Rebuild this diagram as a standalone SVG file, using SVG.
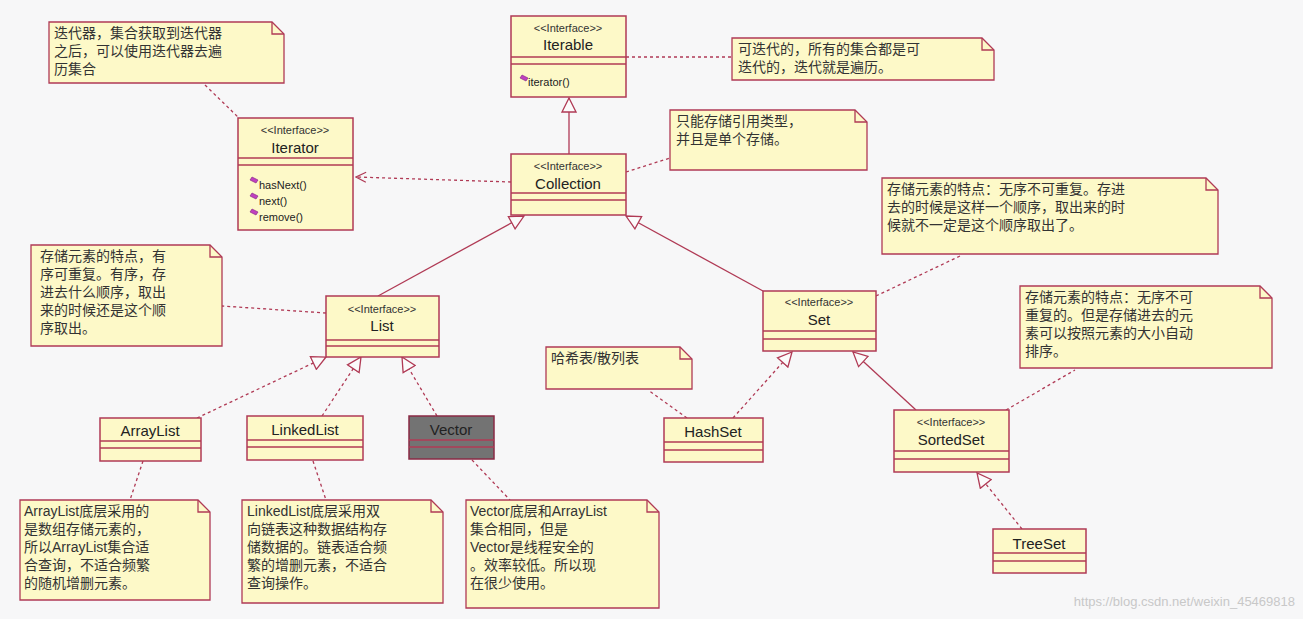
<svg xmlns="http://www.w3.org/2000/svg" width="1303" height="619" viewBox="0 0 1303 619">
<style>
.b{fill:#fdf9c8;stroke:#b03a55;stroke-width:1.5}
.g{fill:#737373;stroke:#8a2a44;stroke-width:1.5}
.n{fill:#fdf9c8;stroke:#b03a55;stroke-width:1.3}
.l{stroke:#b03a55;stroke-width:1.3;fill:none}
.s{font-family:"Liberation Sans","Noto Sans CJK SC",sans-serif;font-size:11px;fill:#333;text-anchor:middle}
.t{font-family:"Liberation Sans","Noto Sans CJK SC",sans-serif;font-size:15px;fill:#222;text-anchor:middle}
.m{font-family:"Liberation Sans",sans-serif;font-size:11px;fill:#222}
.c{font-family:"Liberation Sans","Noto Sans CJK SC",sans-serif;font-size:14px;fill:#333}
.d{stroke:#b03a55;stroke-width:1.3;fill:none;stroke-dasharray:3,3}
</style>
<defs>
<marker id="tri" viewBox="0 0 16 16" refX="15" refY="8" markerWidth="16" markerHeight="16" markerUnits="userSpaceOnUse" orient="auto"><path d="M1,1 L15,8 L1,15 Z" fill="#fbfbfb" stroke="#b03a55" stroke-width="1.3"/></marker>
<marker id="open" viewBox="0 0 12 12" refX="11" refY="6" markerWidth="12" markerHeight="12" markerUnits="userSpaceOnUse" orient="auto"><path d="M1,1 L11,6 L1,11" fill="none" stroke="#b03a55" stroke-width="1.2"/></marker>
<path id="dm" d="M0,-3 L6,0 L4,3 L-2,0 Z" fill="#c040c0" stroke="#802080" stroke-width="0.6"/>
</defs>
<rect width="1303" height="619" fill="#f7f7f8"/>
<g id="connectors">
<line class="d" x1="626" y1="57" x2="732" y2="57"/>
<line class="d" x1="205" y1="85" x2="240" y2="119"/>
<line class="d" x1="511" y1="182" x2="356" y2="177" marker-end="url(#open)"/>
<line class="l" x1="569" y1="154" x2="569" y2="98" marker-end="url(#tri)"/>
<line class="d" x1="626" y1="172" x2="670" y2="158"/>
<line class="l" x1="378" y1="296" x2="524" y2="216" marker-end="url(#tri)"/>
<line class="l" x1="763" y1="291" x2="626" y2="216" marker-end="url(#tri)"/>
<line class="d" x1="876" y1="296" x2="960" y2="256"/>
<line class="d" x1="326" y1="313" x2="222" y2="306"/>
<line class="d" x1="197" y1="418" x2="326" y2="357" marker-end="url(#tri)"/>
<line class="d" x1="322" y1="416" x2="361" y2="357" marker-end="url(#tri)"/>
<line class="d" x1="437" y1="416" x2="402" y2="357" marker-end="url(#tri)"/>
<line class="d" x1="143" y1="461" x2="130" y2="500"/>
<line class="d" x1="313" y1="461" x2="326" y2="500"/>
<line class="d" x1="472" y1="460" x2="510" y2="500"/>
<line class="d" x1="687" y1="418" x2="648" y2="390"/>
<line class="d" x1="733" y1="418" x2="792" y2="352" marker-end="url(#tri)"/>
<line class="l" x1="916" y1="410" x2="853" y2="352" marker-end="url(#tri)"/>
<line class="d" x1="1006" y1="410" x2="1075" y2="370"/>
<line class="d" x1="1022" y1="529" x2="977" y2="473" marker-end="url(#tri)"/>
</g>
<g id="Iterable"><rect class="b" x="511" y="16" width="115" height="81"/><line class="l" x1="511" y1="57" x2="626" y2="57"/><line class="l" x1="511" y1="64" x2="626" y2="64"/>
<text class="s" x="568" y="32">&lt;&lt;Interface&gt;&gt;</text><text class="t" x="568" y="50">Iterable</text>
<use href="#dm" x="522" y="78"/><text class="m" x="528" y="86">iterator()</text></g>
<g id="Iterator"><rect class="b" x="238" y="118" width="115" height="112"/><line class="l" x1="238" y1="158" x2="353" y2="158"/><line class="l" x1="238" y1="165" x2="353" y2="165"/>
<text class="s" x="295" y="134">&lt;&lt;Interface&gt;&gt;</text><text class="t" x="295" y="153">Iterator</text>
<use href="#dm" x="252" y="180"/><text class="m" x="259" y="189">hasNext()</text>
<use href="#dm" x="252" y="196"/><text class="m" x="259" y="205">next()</text>
<use href="#dm" x="252" y="212"/><text class="m" x="259" y="221">remove()</text></g>
<g id="Collection"><rect class="b" x="511" y="154" width="115" height="61"/><line class="l" x1="511" y1="193" x2="626" y2="193"/><line class="l" x1="511" y1="200" x2="626" y2="200"/>
<text class="s" x="568" y="170">&lt;&lt;Interface&gt;&gt;</text><text class="t" x="568" y="189">Collection</text></g>
<g id="List"><rect class="b" x="326" y="296" width="113" height="61"/><line class="l" x1="326" y1="340" x2="439" y2="340"/><line class="l" x1="326" y1="346" x2="439" y2="346"/>
<text class="s" x="382" y="313">&lt;&lt;Interface&gt;&gt;</text><text class="t" x="382" y="331">List</text></g>
<g id="Set"><rect class="b" x="763" y="291" width="113" height="60"/><line class="l" x1="763" y1="331" x2="876" y2="331"/><line class="l" x1="763" y1="339" x2="876" y2="339"/>
<text class="s" x="819" y="306">&lt;&lt;Interface&gt;&gt;</text><text class="t" x="819" y="325">Set</text></g>
<g id="ArrayList"><rect class="b" x="100" y="418" width="101" height="43"/><line class="l" x1="100" y1="441" x2="201" y2="441"/><line class="l" x1="100" y1="448" x2="201" y2="448"/><text class="t" x="150" y="436">ArrayList</text></g>
<g id="LinkedList"><rect class="b" x="247" y="416" width="116" height="44"/><line class="l" x1="247" y1="440" x2="363" y2="440"/><line class="l" x1="247" y1="447" x2="363" y2="447"/><text class="t" x="305" y="435">LinkedList</text></g>
<g id="Vector"><rect class="g" x="409" y="416" width="85" height="43"/><line class="l" x1="409" y1="440" x2="494" y2="440"/><line class="l" x1="409" y1="447" x2="494" y2="447"/><text class="t" x="451" y="435">Vector</text></g>
<g id="HashSet"><rect class="b" x="664" y="418" width="99" height="44"/><line class="l" x1="664" y1="442" x2="763" y2="442"/><line class="l" x1="664" y1="450" x2="763" y2="450"/><text class="t" x="713" y="437">HashSet</text></g>
<g id="SortedSet"><rect class="b" x="894" y="410" width="115" height="62"/><line class="l" x1="894" y1="451" x2="1009" y2="451"/><line class="l" x1="894" y1="459" x2="1009" y2="459"/>
<text class="s" x="951" y="426">&lt;&lt;Interface&gt;&gt;</text><text class="t" x="951" y="445">SortedSet</text></g>
<g id="TreeSet"><rect class="b" x="993" y="529" width="93" height="44"/><line class="l" x1="993" y1="553" x2="1086" y2="553"/><line class="l" x1="993" y1="561" x2="1086" y2="561"/><text class="t" x="1039" y="549">TreeSet</text></g>
<g id="note-iterator"><path class="n" d="M49,22 H272 L284,34 V83 H49 Z"/><path class="l" d="M272,22 V34 H284"/>
<text class="c" x="54" y="38">迭代器，集合获取到迭代器</text><text class="c" x="54" y="56">之后，可以使用迭代器去遍</text><text class="c" x="54" y="74">历集合</text></g>
<g id="note-iterable"><path class="n" d="M732,38 H982 L994,50 V80 H732 Z"/><path class="l" d="M982,38 V50 H994"/>
<text class="c" x="738" y="54">可迭代的，所有的集合都是可</text><text class="c" x="738" y="72">迭代的，迭代就是遍历。</text></g>
<g id="note-collection"><path class="n" d="M670,110 H855 L867,122 V170 H670 Z"/><path class="l" d="M855,110 V122 H867"/>
<text class="c" x="676" y="126">只能存储引用类型，</text><text class="c" x="676" y="144">并且是单个存储。</text></g>
<g id="note-set"><path class="n" d="M882,178 H1206 L1218,190 V254 H882 Z"/><path class="l" d="M1206,178 V190 H1218"/>
<text class="c" x="887" y="194">存储元素的特点：无序不可重复。存进</text><text class="c" x="887" y="212">去的时候是这样一个顺序，取出来的时</text><text class="c" x="887" y="230">候就不一定是这个顺序取出了。</text></g>
<g id="note-sortedset"><path class="n" d="M1020,286 H1260 L1272,298 V368 H1020 Z"/><path class="l" d="M1260,286 V298 H1272"/>
<text class="c" x="1025" y="302">存储元素的特点：无序不可</text><text class="c" x="1025" y="320">重复的。但是存储进去的元</text><text class="c" x="1025" y="338">素可以按照元素的大小自动</text><text class="c" x="1025" y="356">排序。</text></g>
<g id="note-list"><path class="n" d="M31,245 H210 L222,257 V346 H31 Z"/><path class="l" d="M210,245 V257 H222"/>
<text class="c" x="40" y="261">存储元素的特点，有</text><text class="c" x="40" y="279">序可重复。有序，存</text><text class="c" x="40" y="297">进去什么顺序，取出</text><text class="c" x="40" y="315">来的时候还是这个顺</text><text class="c" x="40" y="333">序取出。</text></g>
<g id="note-hash"><path class="n" d="M546,347 H680 L692,359 V389 H546 Z"/><path class="l" d="M680,347 V359 H692"/>
<text class="c" x="551" y="363">哈希表/散列表</text></g>
<g id="note-arraylist"><path class="n" d="M20,500 H198 L210,512 V600 H20 Z"/><path class="l" d="M198,500 V512 H210"/>
<text class="c" x="24" y="516">ArrayList底层采用的</text><text class="c" x="24" y="534">是数组存储元素的，</text><text class="c" x="24" y="552">所以ArrayList集合适</text><text class="c" x="24" y="570">合查询，不适合频繁</text><text class="c" x="24" y="588">的随机增删元素。</text></g>
<g id="note-linkedlist"><path class="n" d="M242,500 H431 L443,512 V603 H242 Z"/><path class="l" d="M431,500 V512 H443"/>
<text class="c" x="247" y="516">LinkedList底层采用双</text><text class="c" x="247" y="534">向链表这种数据结构存</text><text class="c" x="247" y="552">储数据的。链表适合频</text><text class="c" x="247" y="570">繁的增删元素，不适合</text><text class="c" x="247" y="588">查询操作。</text></g>
<g id="note-vector"><path class="n" d="M466,500 H647 L659,512 V608 H466 Z"/><path class="l" d="M647,500 V512 H659"/>
<text class="c" x="470" y="516">Vector底层和ArrayList</text><text class="c" x="470" y="534">集合相同，但是</text><text class="c" x="470" y="552">Vector是线程安全的</text><text class="c" x="470" y="570">。效率较低。所以现</text><text class="c" x="470" y="588">在很少使用。</text></g>
<text x="1295" y="606" text-anchor="end" font-family="Liberation Sans,sans-serif" font-size="13" fill="#c8c8c8">https://blog.csdn.net/weixin_45469818</text>
</svg>
